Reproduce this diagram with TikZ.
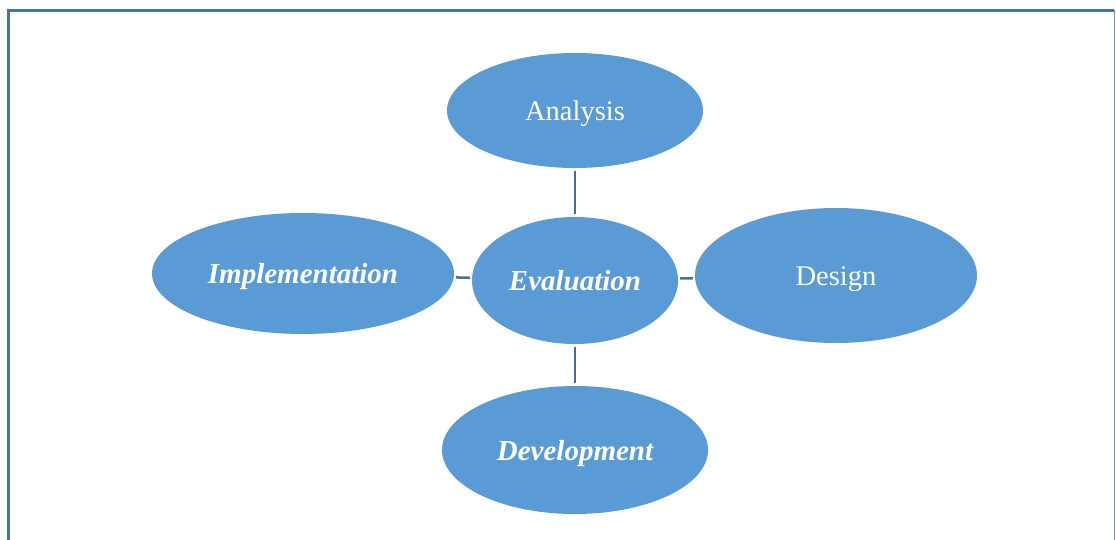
\documentclass[tikz,border=0pt]{standalone}
\usepackage{fontspec}
\setmainfont{Liberation Serif}
\usepackage{xcolor}
\usetikzlibrary{shapes.geometric}
\definecolor{phasefill}{HTML}{5B9BD5}
\definecolor{phaseline}{HTML}{41719C}
\definecolor{framedark}{HTML}{4472A4}
\definecolor{framelight}{HTML}{8096AE}

\begin{document}
\begin{tikzpicture}%
                    [x={(1pt,0pt)},
                    y={(0pt,-1pt)},
                    phase/.style={ellipse, fill=phasefill, draw=none, inner sep=0pt,
                                  text height=24pt, text depth=4pt,
                                  text=white, font=\fontsize{28.5}{32}\selectfont},
                    keyphase/.style={phase, font=\fontsize{29}{32}\selectfont\bfseries\itshape},
                    link/.style={color=phaseline, line width=2.5pt, shorten >=3pt, shorten <=3pt}]
                \useasboundingbox (0,0) rectangle (1116,540);
                %% Drawing the frame
                \draw[color=framedark, line width=2.5pt] (8.5,540) -- (8.5,10.5) -- (1114,10.5);
                \draw[color=framelight, line width=1.5pt] (1114.5,10.5) -- (1114.5,540);
                %%
                %% Drawing the phases
                %%
                \node[phase, minimum width=256pt, minimum height=115pt] (analysis) at (575,110.5) {Analysis};
                \node[keyphase, minimum width=206pt, minimum height=127pt] (evaluation) at (575,280.5) {Evaluation};
                \node[keyphase, minimum width=302pt, minimum height=121pt] (implementation) at (303,273.5) {Implementation};
                \node[phase, minimum width=282pt, minimum height=135pt] (design) at (836,275.5) {Design};
                \node[keyphase, minimum width=266pt, minimum height=128pt] (development) at (575,450) {Development};

                %% Links to the centre:
                \draw[link] (analysis) -- (evaluation);
                \draw[link, shorten >=2pt, shorten <=2pt] (implementation) -- (evaluation);
                \draw[link, shorten >=2pt, shorten <=2pt] (evaluation) -- (design);
                \draw[link] (evaluation) -- (development);
                \end{tikzpicture}
\end{document}
